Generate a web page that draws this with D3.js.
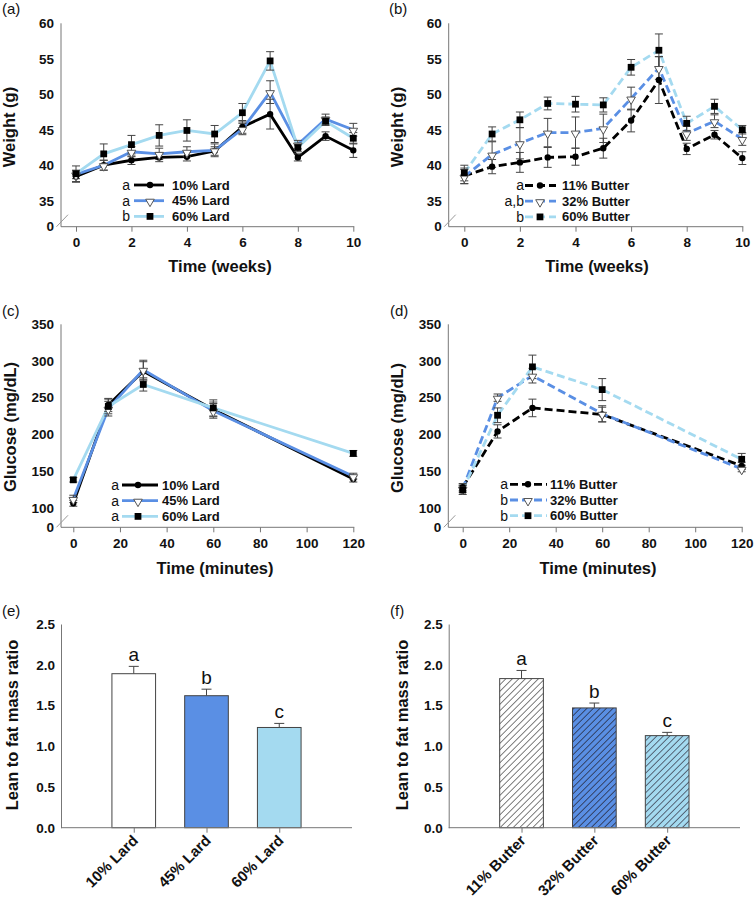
<!DOCTYPE html>
<html lang="en">
<head>
  <meta charset="UTF-8" />
  <title>Body weight, glucose tolerance and lean/fat ratio</title>
  <script src="https://d3js.org/d3.v7.min.js"></script>
  <style>
    body { margin: 0; background: #fff; }
    svg { display: block; font-family: Arial, 'Liberation Sans', sans-serif; }
    .tick text, .base-label { font-size: 13.5px; font-weight: bold; fill: #111; font-family: Arial, 'Liberation Sans', sans-serif; }
    .axis-title { font-size: 16.5px; font-weight: bold; fill: #111; }
    .panel-label { font-size: 15px; fill: #111; }
    .legend-text { font-size: 13px; font-weight: bold; fill: #111; }
    .legend-letter { font-size: 14px; fill: #111; }
    .bar-letter { font-size: 19px; fill: #111; }
    .bar-axis .tick text { font-size: 15px; }
  </style>
</head>
<body>
  <svg id="chart" width="754" height="904"></svg>

  <script>
    // ---- data ----
    const weeks = [0, 1, 2, 3, 4, 5, 6, 7, 8, 9, 10];
    const weekTicks = [0, 2, 4, 6, 8, 10];
    const weightTicks = [35, 40, 45, 50, 55, 60];

    const lard10 = [38.4, 40.0, 40.7, 41.1, 41.2, 42.0, 45.4, 47.2, 41.1, 44.1, 42.1];
    const lard10Err = [0.8, 0.7, 0.6, 0.6, 0.6, 0.6, 0.9, 2.1, 0.5, 0.6, 1.0];
    const lard45 = [38.7, 40.0, 41.9, 41.6, 41.9, 42.1, 45.1, 50.3, 42.9, 46.5, 45.0];
    const lard45Err = [0.6, 0.7, 0.7, 0.8, 0.7, 0.9, 0.8, 1.6, 0.6, 0.7, 0.9];
    const lard60 = [38.8, 41.6, 42.9, 44.2, 44.9, 44.4, 47.4, 54.7, 42.5, 46.2, 43.8];
    const lard60Err = [1.1, 1.4, 1.3, 1.5, 1.5, 1.2, 1.3, 1.3, 0.6, 0.6, 0.8];

    const butter11 = [38.5, 39.8, 40.4, 41.1, 41.2, 42.4, 46.3, 52.0, 42.3, 44.3, 41.0];
    const butter11Err = [1.1, 1.0, 1.4, 1.4, 1.2, 1.4, 1.6, 3.3, 0.8, 0.6, 0.9];
    const butter32 = [38.4, 41.5, 43.1, 44.6, 44.6, 45.2, 49.4, 53.7, 44.5, 46.2, 43.7];
    const butter32Err = [1.0, 1.8, 2.2, 2.0, 2.2, 2.0, 1.6, 1.6, 1.0, 0.9, 0.9];
    const butter60 = [38.9, 44.4, 46.4, 48.7, 48.6, 48.5, 53.8, 56.2, 45.9, 48.3, 45.0];
    const butter60Err = [1.1, 1.0, 1.1, 0.9, 1.1, 1.0, 1.1, 2.3, 1.0, 1.0, 0.6];

    const gttTimes = [0, 15, 30, 60, 120];
    const gttTicks = [0, 20, 40, 60, 80, 100, 120];
    const glucoseTicks = [100, 150, 200, 250, 300, 350];

    const glucLard10 = [106, 240, 286, 234, 139];
    const glucLard10Err = [4, 9, 13, 10, 4];
    const glucLard45 = [112, 235, 288, 232, 143];
    const glucLard45Err = [5, 10, 13, 10, 4];
    const glucLard60 = [138, 238, 268, 236, 174];
    const glucLard60Err = [3, 10, 9, 11, 4];

    const glucButter11 = [128, 204, 236, 227, 157];
    const glucButter11Err = [5, 9, 12, 10, 5];
    const glucButter32 = [126, 250, 280, 228, 153];
    const glucButter32Err = [5, 5, 10, 11, 4];
    const glucButter60 = [124, 226, 292, 261, 166];
    const glucButter60Err = [6, 10, 16, 15, 8];

    const ratioTicks = [0, 0.5, 1.0, 1.5, 2.0, 2.5];
    const lardGroups = ['10% Lard', '45% Lard', '60% Lard'];
    const lardRatio = [1.89, 1.62, 1.23];
    const lardRatioErr = [0.09, 0.08, 0.05];
    const butterGroups = ['11% Butter', '32% Butter', '60% Butter'];
    const butterRatio = [1.83, 1.47, 1.13];
    const butterRatioErr = [0.10, 0.06, 0.04];
    const ratioLetters = ['a', 'b', 'c'];

    // ---- styling ----
    const black = '#000';
    const blue = '#5a8fe4';
    const lightBlue = '#a4daf0';
    const axisColor = '#777';
    const errColor = '#444';

    const svg = d3.select('#chart');

    function symbolFor(kind) {
      if (kind === 'circle') return d3.symbol(d3.symbolCircle, 32)();
      if (kind === 'square') return d3.symbol(d3.symbolSquare, 46)();
      return d3.symbol(d3.symbolTriangle, 32)();
    }

    function drawMarker(g, kind, cx, cy) {
      const m = g.append('path')
        .attr('d', symbolFor(kind))
        .attr('transform', kind === 'triangle'
          ? `translate(${cx},${cy + 1}) rotate(180)`
          : `translate(${cx},${cy})`);
      if (kind === 'triangle') {
        m.attr('fill', '#fff').attr('stroke', '#555').attr('stroke-width', 1);
      } else {
        m.attr('fill', '#000');
      }
    }

    // Line chart panel with a broken y axis
    function drawLinePanel(p) {
      const g = svg.append('g');
      const x = d3.scaleLinear().domain(p.xDomain).range(p.xRange);
      const y = d3.scaleLinear().domain(p.yDomain).range(p.yRange);

      g.append('text').attr('class', 'panel-label')
        .attr('x', p.labelPos[0]).attr('y', p.labelPos[1]).text(p.label);

      // axis lines + break mark
      g.append('line')
        .attr('x1', p.axisX).attr('x2', p.axisX)
        .attr('y1', p.yRange[1]).attr('y2', p.bottom)
        .attr('stroke', axisColor);
      g.append('line')
        .attr('x1', p.axisX).attr('x2', p.xRange[1] + 1)
        .attr('y1', p.bottom).attr('y2', p.bottom)
        .attr('stroke', axisColor);
      g.append('line')
        .attr('x1', p.axisX - 4.5).attr('y1', p.bottom)
        .attr('x2', p.axisX + 7).attr('y2', p.bottom - 12)
        .attr('stroke', '#999');

      const yAxis = g.append('g')
        .attr('transform', `translate(${p.axisX},0)`)
        .call(d3.axisLeft(y).tickValues(p.yTicks).tickSize(0).tickPadding(7));
      yAxis.select('.domain').remove();
      yAxis.append('text').attr('class', 'base-label')
        .attr('x', -7).attr('y', p.bottom).attr('dy', '0.32em')
        .attr('text-anchor', 'end').text('0');

      const xAxis = g.append('g')
        .attr('transform', `translate(0,${p.bottom})`)
        .call(d3.axisBottom(x).tickValues(p.xTicks).tickSizeInner(5).tickSizeOuter(0).tickPadding(6));
      xAxis.select('.domain').remove();
      xAxis.selectAll('.tick line').attr('stroke', axisColor);

      g.append('text').attr('class', 'axis-title')
        .attr('x', p.xTitlePos[0]).attr('y', p.xTitlePos[1])
        .attr('text-anchor', 'middle').text(p.xTitle);
      g.append('text').attr('class', 'axis-title')
        .attr('transform', `translate(${p.yTitlePos[0]},${p.yTitlePos[1]}) rotate(-90)`)
        .attr('text-anchor', 'middle').text(p.yTitle);

      const line = d3.line().x(d => x(d.t)).y(d => y(d.v));
      const dash = p.dashed ? '8,4' : null;

      const pointsOf = s => p.xValues.map((t, i) => ({ t, v: s.values[i], e: s.errs[i] }));

      p.series.forEach(s => {
        g.append('path').datum(pointsOf(s))
          .attr('d', line)
          .attr('fill', 'none')
          .attr('stroke', s.color)
          .attr('stroke-width', 2.8)
          .attr('stroke-dasharray', dash);
      });

      // error bars
      p.series.forEach(s => {
        pointsOf(s).forEach(d => {
          const cx = x(d.t), y1 = y(d.v - d.e), y2 = y(d.v + d.e);
          g.append('line').attr('x1', cx).attr('x2', cx).attr('y1', y1).attr('y2', y2)
            .attr('stroke', errColor).attr('stroke-width', 1);
          [y1, y2].forEach(yy => g.append('line')
            .attr('x1', cx - 4).attr('x2', cx + 4).attr('y1', yy).attr('y2', yy)
            .attr('stroke', errColor).attr('stroke-width', 1));
        });
      });

      // markers
      p.series.forEach(s => {
        pointsOf(s).forEach(d => drawMarker(g, s.marker, x(d.t), y(d.v)));
      });

      // legend
      const L = p.legend;
      p.series.forEach((s, i) => {
        const ly = L.y0 + i * L.dy;
        g.append('text').attr('class', 'legend-letter')
          .attr('x', L.letterX).attr('y', ly).attr('dy', '0.35em')
          .attr('text-anchor', 'end').text(s.letter);
        g.append('line')
          .attr('x1', L.x1).attr('x2', L.x2).attr('y1', ly).attr('y2', ly)
          .attr('stroke', s.color).attr('stroke-width', 2.8)
          .attr('stroke-dasharray', dash);
        drawMarker(g, s.marker, L.markerX, ly);
        g.append('text').attr('class', 'legend-text')
          .attr('x', L.textX).attr('y', ly).attr('dy', '0.35em').text(s.name);
      });
    }

    // Bar chart panel
    function drawBarPanel(p) {
      const g = svg.append('g');
      const x = d3.scalePoint().domain(p.groups).range([p.axisX, p.right]).padding(1);
      const y = d3.scaleLinear().domain([0, 2.5]).range(p.yRange);
      const bw = x.step() * 0.6;
      const base = p.yRange[0];

      g.append('text').attr('class', 'panel-label')
        .attr('x', p.labelPos[0]).attr('y', p.labelPos[1]).text(p.label);

      const yAxis = g.append('g')
        .attr('transform', `translate(${p.axisX},0)`)
        .call(d3.axisLeft(y).tickValues(ratioTicks).tickFormat(d3.format('.1f')).tickSize(0).tickPadding(6));
      yAxis.select('.domain').attr('stroke', axisColor);

      // error bars (upper only), drawn under bars
      p.groups.forEach((grp, i) => {
        const cx = x(grp), top = y(p.values[i] + p.errs[i]);
        g.append('line').attr('x1', cx).attr('x2', cx).attr('y1', y(p.values[i])).attr('y2', top)
          .attr('stroke', errColor);
        g.append('line').attr('x1', cx - 5).attr('x2', cx + 5).attr('y1', top).attr('y2', top)
          .attr('stroke', errColor);
        g.append('text').attr('class', 'bar-letter')
          .attr('x', cx).attr('y', top - 5).attr('text-anchor', 'middle').text(ratioLetters[i]);
      });

      g.selectAll('rect.bar').data(p.groups).join('rect')
        .attr('class', 'bar')
        .attr('x', d => x(d) - bw / 2)
        .attr('width', bw)
        .attr('y', (d, i) => y(p.values[i]))
        .attr('height', (d, i) => base - y(p.values[i]))
        .attr('fill', (d, i) => p.fills[i])
        .attr('stroke', '#444')
        .attr('stroke-width', 1);

      const xAxis = g.append('g')
        .attr('class', 'bar-axis')
        .attr('transform', `translate(0,${base})`)
        .call(d3.axisBottom(x).tickSizeInner(5).tickSizeOuter(0));
      xAxis.select('.domain').attr('stroke', axisColor).attr('d', `M${p.axisX},0H${p.right}`);
      xAxis.selectAll('.tick line').attr('stroke', axisColor);
      xAxis.selectAll('.tick text')
        .attr('text-anchor', 'end')
        .attr('x', 0).attr('y', 0).attr('dy', '0.35em')
        .attr('transform', 'translate(1,10) rotate(-45)');

      g.append('text').attr('class', 'axis-title')
        .attr('transform', `translate(${p.yTitlePos[0]},${p.yTitlePos[1]}) rotate(-90)`)
        .attr('text-anchor', 'middle').text('Lean to fat mass ratio');
    }

    // hatch patterns for the butter bars
    const defs = svg.append('defs');
    function hatch(id, bg, ink) {
      const pat = defs.append('pattern')
        .attr('id', id).attr('patternUnits', 'userSpaceOnUse')
        .attr('width', 4.6).attr('height', 4.6)
        .attr('patternTransform', 'rotate(45)');
      pat.append('rect').attr('width', 4.6).attr('height', 4.6).attr('fill', bg);
      pat.append('line').attr('x1', 0).attr('x2', 0).attr('y1', 0).attr('y2', 4.6)
        .attr('stroke', ink).attr('stroke-width', 1.4);
      return `url(#${id})`;
    }
    const hatchWhite = hatch('hw', '#fff', '#444');
    const hatchBlue = hatch('hb', blue, '#223');
    const hatchLight = hatch('hl', lightBlue, '#334');

    // ---- panels ----
    drawLinePanel({
      label: '(a)', labelPos: [2, 14],
      axisX: 61, xRange: [76, 353.3], xDomain: [0, 10], xTicks: weekTicks, xValues: weeks,
      yDomain: [35, 60], yRange: [200.7, 23.3], yTicks: weightTicks, bottom: 226.7,
      xTitle: 'Time (weeks)', xTitlePos: [220, 272],
      yTitle: 'Weight (g)', yTitlePos: [15, 127],
      dashed: false,
      series: [
        { name: '10% Lard', letter: 'a', values: lard10, errs: lard10Err, color: black, marker: 'circle' },
        { name: '45% Lard', letter: 'a', values: lard45, errs: lard45Err, color: blue, marker: 'triangle' },
        { name: '60% Lard', letter: 'b', values: lard60, errs: lard60Err, color: lightBlue, marker: 'square' }
      ],
      legend: { letterX: 130, x1: 134, x2: 164, markerX: 150, textX: 172, y0: 185, dy: 15.7 }
    });

    drawLinePanel({
      label: '(b)', labelPos: [389, 14],
      axisX: 448.7, xRange: [464.3, 742.3], xDomain: [0, 10], xTicks: weekTicks, xValues: weeks,
      yDomain: [35, 60], yRange: [200.7, 23.3], yTicks: weightTicks, bottom: 226.7,
      xTitle: 'Time (weeks)', xTitlePos: [597, 272],
      yTitle: 'Weight (g)', yTitlePos: [403, 127],
      dashed: true,
      series: [
        { name: '11% Butter', letter: 'a', values: butter11, errs: butter11Err, color: black, marker: 'circle' },
        { name: '32% Butter', letter: 'a,b', values: butter32, errs: butter32Err, color: blue, marker: 'triangle' },
        { name: '60% Butter', letter: 'b', values: butter60, errs: butter60Err, color: lightBlue, marker: 'square' }
      ],
      legend: { letterX: 524, x1: 525, x2: 556, markerX: 540, textX: 562, y0: 185.5, dy: 15.7 }
    });

    drawLinePanel({
      label: '(c)', labelPos: [2, 316],
      axisX: 61, xRange: [73.3, 353.3], xDomain: [0, 120], xTicks: gttTicks, xValues: gttTimes,
      yDomain: [100, 350], yRange: [507.7, 324.3], yTicks: glucoseTicks, bottom: 527.3,
      xTitle: 'Time (minutes)', xTitlePos: [215, 574],
      yTitle: 'Glucose (mg/dL)', yTitlePos: [16, 427],
      dashed: false,
      series: [
        { name: '10% Lard', letter: 'a', values: glucLard10, errs: glucLard10Err, color: black, marker: 'circle' },
        { name: '45% Lard', letter: 'a', values: glucLard45, errs: glucLard45Err, color: blue, marker: 'triangle' },
        { name: '60% Lard', letter: 'a', values: glucLard60, errs: glucLard60Err, color: lightBlue, marker: 'square' }
      ],
      legend: { letterX: 119, x1: 122, x2: 158, markerX: 138, textX: 162, y0: 485, dy: 15.7 }
    });

    drawLinePanel({
      label: '(d)', labelPos: [390, 316],
      axisX: 448.3, xRange: [462.7, 741.7], xDomain: [0, 120], xTicks: gttTicks, xValues: gttTimes,
      yDomain: [100, 350], yRange: [507.7, 324.3], yTicks: glucoseTicks, bottom: 527.3,
      xTitle: 'Time (minutes)', xTitlePos: [598, 574],
      yTitle: 'Glucose (mg/dL)', yTitlePos: [403, 428],
      dashed: true,
      series: [
        { name: '11% Butter', letter: 'a', values: glucButter11, errs: glucButter11Err, color: black, marker: 'circle' },
        { name: '32% Butter', letter: 'b', values: glucButter32, errs: glucButter32Err, color: blue, marker: 'triangle' },
        { name: '60% Butter', letter: 'b', values: glucButter60, errs: glucButter60Err, color: lightBlue, marker: 'square' }
      ],
      legend: { letterX: 508, x1: 510, x2: 547, markerX: 528, textX: 550, y0: 484.3, dy: 15.7 }
    });

    drawBarPanel({
      label: '(e)', labelPos: [2, 616],
      axisX: 61, right: 352, yRange: [827.7, 624],
      groups: lardGroups, values: lardRatio, errs: lardRatioErr,
      fills: ['#fff', blue, lightBlue],
      yTitlePos: [18, 725]
    });

    drawBarPanel({
      label: '(f)', labelPos: [390, 616],
      axisX: 448.7, right: 740, yRange: [827.7, 624],
      groups: butterGroups, values: butterRatio, errs: butterRatioErr,
      fills: [hatchWhite, hatchBlue, hatchLight],
      yTitlePos: [408, 725]
    });
  </script>
</body>
</html>
